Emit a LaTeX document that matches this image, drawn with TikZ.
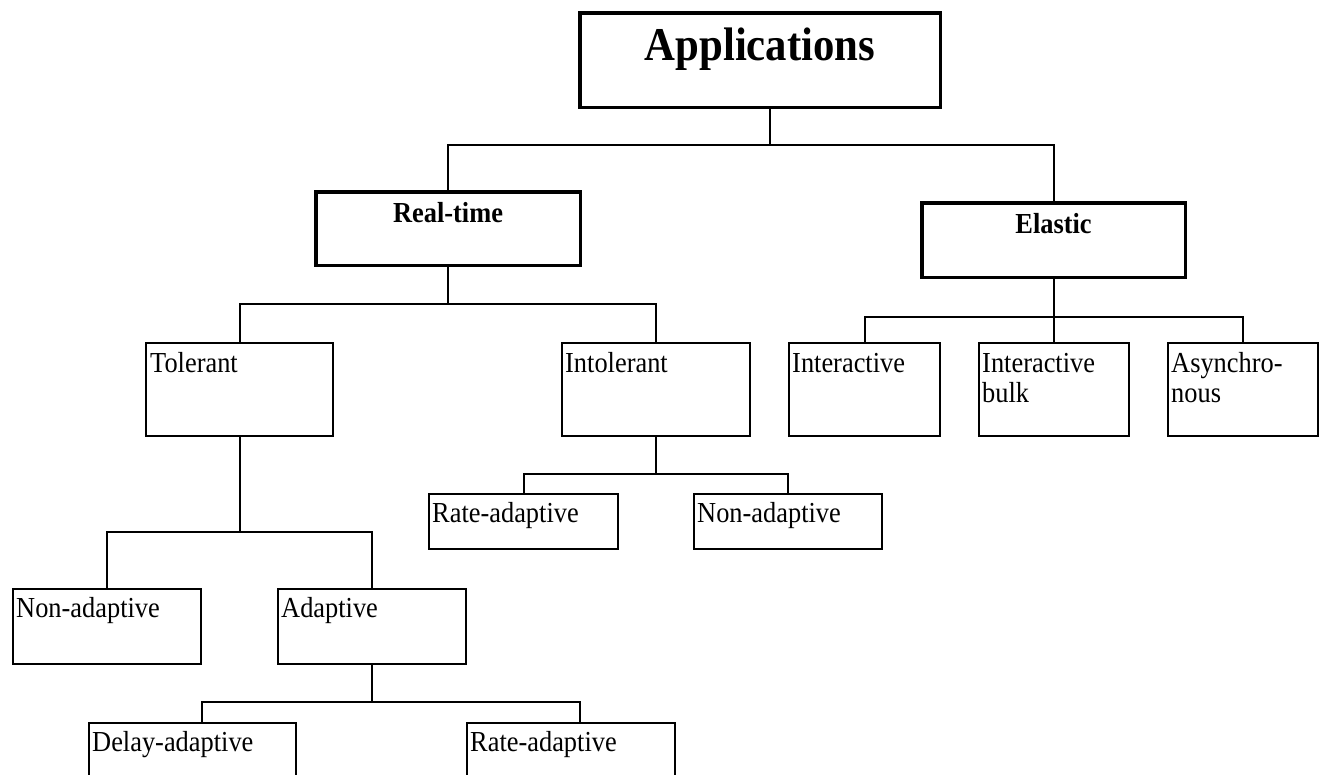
\documentclass[tikz,border=0pt]{standalone}
\usepackage{fontspec}
\setmainfont[FakeStretch=0.91]{Liberation Serif}
\usetikzlibrary{calc}
\tikzset{
  box/.style={draw, line width=2pt, rectangle, inner sep=0pt, outer sep=0pt, anchor=north west},
  bbox/.style={draw, line width=3.5pt, rectangle, inner sep=0pt, outer sep=0pt, anchor=north west},
  conn/.style={draw, line width=2pt},
  txt/.style={anchor=base west, inner sep=0pt, align=left, font=\fontsize{29}{30}\selectfont},
  btxt/.style={anchor=base, inner sep=0pt, font=\fontsize{29}{30}\selectfont\bfseries},
}
\begin{document}
\begin{tikzpicture}[x=1pt,y=-1pt]
\useasboundingbox (0,0) rectangle (1324,774);
\clip (0,0) rectangle (1324,774);
% bold boxes
\node[bbox, minimum width=360.5pt, minimum height=94.5pt] (app) at (579.75,12.75) {};
\node[bbox, minimum width=264.5pt, minimum height=73.5pt] (rt) at (315.75,191.75) {};
\node[bbox, minimum width=263.5pt, minimum height=74.5pt] (el) at (921.75,202.75) {};
% regular boxes
\node[box, minimum width=187pt, minimum height=93pt] (tol) at (146,343) {};
\node[box, minimum width=188pt, minimum height=93pt] (intol) at (562,343) {};
\node[box, minimum width=151pt, minimum height=93pt] (inter) at (789,343) {};
\node[box, minimum width=150pt, minimum height=93pt] (bulk) at (979,343) {};
\node[box, minimum width=150pt, minimum height=93pt] (async) at (1168,343) {};
\node[box, minimum width=189pt, minimum height=55pt] (ira) at (429,494) {};
\node[box, minimum width=188pt, minimum height=55pt] (ina) at (694,494) {};
\node[box, minimum width=188pt, minimum height=75pt] (tna) at (13,589) {};
\node[box, minimum width=188pt, minimum height=75pt] (adp) at (278,589) {};
\node[box, minimum width=207pt, minimum height=80pt] (dad) at (89,723) {};
\node[box, minimum width=208pt, minimum height=80pt] (ara) at (467,723) {};
% texts
\node[btxt, font=\fontsize{47}{50}\selectfont\bfseries] (appt) at (760,60) {Applications};
\node[btxt] (rtt) at (448,222) {Real-time};
\node[btxt] (elt) at (1053.5,233) {Elastic};
\node[txt] (tolt) at ($(tol.north west)+(4,29)$) {Tolerant};
\node[txt] (intolt) at ($(intol.north west)+(3,29)$) {Intolerant};
\node[txt] (intert) at ($(inter.north west)+(3,29)$) {Interactive};
\node[txt] (bulkt) at ($(bulk.north west)+(3,59)$) {Interactive\\bulk};
\node[txt] (asynct) at ($(async.north west)+(3,59)$) {Asynchro-\\nous};
\node[txt] (irat) at ($(ira.north west)+(3,28)$) {Rate-adaptive};
\node[txt] (inat) at ($(ina.north west)+(3,28)$) {Non-adaptive};
\node[txt] (tnat) at ($(tna.north west)+(3,28)$) {Non-adaptive};
\node[txt] (adpt) at ($(adp.north west)+(3,28)$) {Adaptive};
\node[txt] (dadt) at ($(dad.north west)+(3,28)$) {Delay-adaptive};
\node[txt] (arat) at ($(ara.north west)+(3,28)$) {Rate-adaptive};
% junctions
\coordinate (j1) at (770,145);
\coordinate (j2) at (448,304);
\coordinate (j3) at (1053.5,316.5);
\coordinate (j4) at (656,474);
\coordinate (j5) at (239.5,532);
\coordinate (j6) at (372,702);
% connectors
\draw[conn] (app.south -| j1) -- (j1);
\draw[conn] (j1) -| (rt.north);
\draw[conn] (j1) -| (el.north);
\draw[conn] (rt.south) -- (rt.south |- j2);
\draw[conn] (j2) -| (tol.north);
\draw[conn] (j2) -| (intol.north);
\draw[conn] (el.south) -- (el.south |- j3);
\draw[conn] (j3) -| (inter.north);
\draw[conn] (j3) -- (j3 |- bulk.north);
\draw[conn] (j3) -| (async.north);
\draw[conn] (intol.south) -- (intol.south |- j4);
\draw[conn] (j4) -| (ira.north);
\draw[conn] (j4) -| (ina.north);
\draw[conn] (tol.south) -- (tol.south |- j5);
\draw[conn] (j5) -| (tna.north);
\draw[conn] (j5) -| (adp.north);
\draw[conn] (adp.south) -- (adp.south |- j6);
\draw[conn] (j6) -| ([xshift=9.5pt]dad.north);
\draw[conn] (j6) -| ([xshift=9pt]ara.north);
\end{tikzpicture}
\end{document}
